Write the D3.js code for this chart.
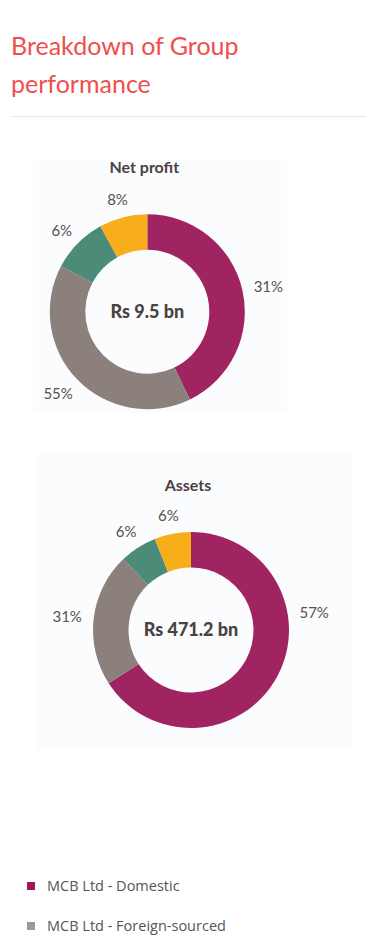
<!DOCTYPE html>
<html>
<head>
<meta charset="utf-8">
<script src="https://cdn.jsdelivr.net/npm/d3@7"></script>
<style>
  html, body { margin: 0; padding: 0; background: #ffffff; }
  svg { display: block; }
</style>
</head>
<body>
<svg id="chart" width="381" height="949"></svg>
<script>
// ---------------- DATA ----------------
const categories = ["MCB Ltd - Domestic", "MCB Ltd - Foreign-sourced", "Other banking", "Non-banking"];
const legendCategories = ["MCB Ltd - Domestic", "MCB Ltd - Foreign-sourced"];

// Slice sizes as drawn in the reference (share of the ring, %)
const netProfitShares = [42.8, 39.9, 9.3, 8.0];
const assetsShares    = [65.8, 22.0, 6.1, 6.0];

// Printed percentage labels
const netProfitLabels = ["31%", "55%", "6%", "8%"];
const assetsLabels    = ["57%", "31%", "6%", "6%"];

const chartTitles  = ["Net profit", "Assets"];
const centerTexts  = ["Rs 9.5 bn", "Rs 471.2 bn"];

// ---------------- STYLE / LAYOUT ----------------
const colors = ["#a02462", "#8c807c", "#4c8b78", "#f8ae1a"];
const legendColors = ["#a0155c", "#9a9a9a"];
const textDark = "#4a4242";
const labelColor = "#5a5050";

const svg = d3.select("#chart");

// Title
const title = svg.append("text")
  .attr("font-family", "Lato")
  .attr("font-size", 25)
  .attr("fill", "#f04e4e");
title.append("tspan").attr("x", 11).attr("y", 55).text("Breakdown of Group");
title.append("tspan").attr("x", 11).attr("y", 93).text("performance");

svg.append("line")
  .attr("x1", 11).attr("x2", 366)
  .attr("y1", 116.5).attr("y2", 116.5)
  .attr("stroke", "#e4e4e4").attr("stroke-width", 1);

const charts = [
  { shares: netProfitShares, labels: netProfitLabels, title: chartTitles[0], center: centerTexts[0],
    panel: [33, 159, 254, 253], cx: 147.3, cy: 311.7, R: 97.5, r: 62, titleY: 173, labelAngle: {} },
  { shares: assetsShares, labels: assetsLabels, title: chartTitles[1], center: centerTexts[1],
    panel: [35, 454, 317, 295], cx: 191, cy: 630, R: 98, r: 62.5, titleY: 491, labelAngle: {0: 81} }
];

const pie = d3.pie().sort(null).value(d => d);

charts.forEach(c => {
  svg.append("rect")
    .attr("x", c.panel[0]).attr("y", c.panel[1])
    .attr("width", c.panel[2]).attr("height", c.panel[3])
    .attr("fill", "#fbfcfd");

  svg.append("text")
    .attr("x", c.cx - 3).attr("y", c.titleY)
    .attr("text-anchor", "middle")
    .attr("font-family", "Lato").attr("font-weight", "bold")
    .attr("font-size", 16)
    .attr("fill", textDark)
    .text(c.title);

  const g = svg.append("g").attr("transform", `translate(${c.cx},${c.cy})`);
  const arc = d3.arc().innerRadius(c.r).outerRadius(c.R);
  const arcs = pie(c.shares);

  g.selectAll("path.slice").data(arcs).join("path")
    .attr("class", "slice")
    .attr("d", arc)
    .attr("fill", (d, i) => colors[i]);

  g.append("text")
    .attr("x", 0).attr("y", 6)
    .attr("text-anchor", "middle")
    .attr("font-family", "Lato").attr("font-weight", "900")
    .attr("font-size", 18)
    .attr("fill", textDark)
    .text(c.center);

  arcs.forEach((d, i) => {
    const mid = (c.labelAngle[i] !== undefined) ? c.labelAngle[i] * Math.PI / 180 : (d.startAngle + d.endAngle) / 2;
    const rl = c.R + 12;
    const t = g.append("text")
      .attr("font-family", "Lato")
      .attr("font-size", 15)
      .attr("fill", labelColor)
      .attr("text-anchor", "middle")
      .attr("dominant-baseline", "central")
      .text(c.labels[i]);
    const w = t.node().getComputedTextLength();
    const x = Math.sin(mid) * rl + Math.sin(mid) * w / 2;
    const y = -Math.cos(mid) * rl - Math.cos(mid) * 7;
    t.attr("x", x).attr("y", y);
  });
});

// Legend
const legend = svg.append("g");
legendCategories.forEach((name, i) => {
  const y0 = 886 + i * 40;
  legend.append("rect")
    .attr("x", 27).attr("y", y0 - 4)
    .attr("width", 8).attr("height", 8)
    .attr("fill", legendColors[i]);
  legend.append("text")
    .attr("x", 47).attr("y", y0 + 5)
    .attr("font-family", "Open Sans")
    .attr("font-size", 14.5)
    .attr("fill", "#555555")
    .text(name);
});
</script>
</body>
</html>
